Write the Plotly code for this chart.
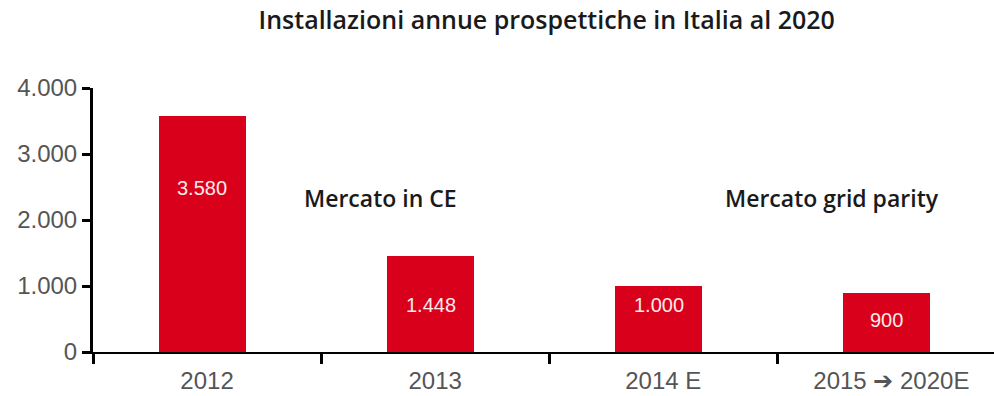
import plotly.graph_objects as go

# Annual installations (MW) in Italy, actual and prospective
categories = ["2012", "2013", "2014 E", "2015 ➔ 2020E"]
values = [3580, 1448, 1000, 900]
y_ticks = [0, 1000, 2000, 3000, 4000]

title_text = "Installazioni annue prospettiche in Italia al 2020"
market_labels = ["Mercato in CE", "Mercato grid parity"]

BAR_RED = "#D9001B"
AXIS_GREY = "#555555"
HEAD_FONT = "Open Sans"
TICK_FONT = "Liberation Sans, Arial"


def it_number(v):
    return f"{v:,}".replace(",", ".")


fig = go.Figure()
fig.add_trace(go.Bar(
    x=categories,
    y=values,
    marker=dict(color=BAR_RED, line=dict(width=0)),
    width=0.38,
    offset=-0.21,
    hoverinfo="x+y",
))

# value labels inside the bars
label_heights = [2480, 715, 715, 480]
for i, (cat, v) in enumerate(zip(categories, values)):
    fig.add_annotation(
        x=i - 0.02, y=label_heights[i], xref="x", yref="y",
        text=it_number(v), showarrow=False,
        font=dict(family=TICK_FONT, size=20, color="#fbeaea"),
    )

# market segment captions
fig.add_annotation(x=0.76, y=2330, xref="x", yref="y", text=market_labels[0],
                   showarrow=False,
                   font=dict(family=HEAD_FONT, size=23, color="#1a1a1a", weight=600))
fig.add_annotation(x=2.74, y=2330, xref="x", yref="y", text=market_labels[1],
                   showarrow=False,
                   font=dict(family=HEAD_FONT, size=23, color="#1a1a1a", weight=600))

fig.update_layout(
    width=994, height=396,
    margin=dict(l=93, r=0, t=88, b=44),
    paper_bgcolor="white", plot_bgcolor="white",
    separators=",.",
    showlegend=False,
    title=dict(text=title_text, x=0.55, xanchor="center", y=0.95, yanchor="middle",
               font=dict(family=HEAD_FONT, size=25, color="#1a1a1a", weight=600)),
    bargap=0,
)

fig.update_xaxes(
    type="category",
    range=[-0.5, 3.45],
    showline=True, linecolor="black", linewidth=2,
    ticks="outside", tickson="boundaries", ticklen=10, tickwidth=3, tickcolor="black",
    ticklabelstandoff=6,
    tickfont=dict(family=TICK_FONT, size=24, color=AXIS_GREY),
    showgrid=False, zeroline=False,
)
fig.update_yaxes(
    range=[0, 4000],
    tickvals=y_ticks,
    tickformat=",d",
    showline=True, linecolor="black", linewidth=3,
    ticks="outside", ticklen=8, tickwidth=3, tickcolor="black",
    tickfont=dict(family=TICK_FONT, size=24, color=AXIS_GREY),
    showgrid=False, zeroline=False,
)

fig.write_html("out.html")
